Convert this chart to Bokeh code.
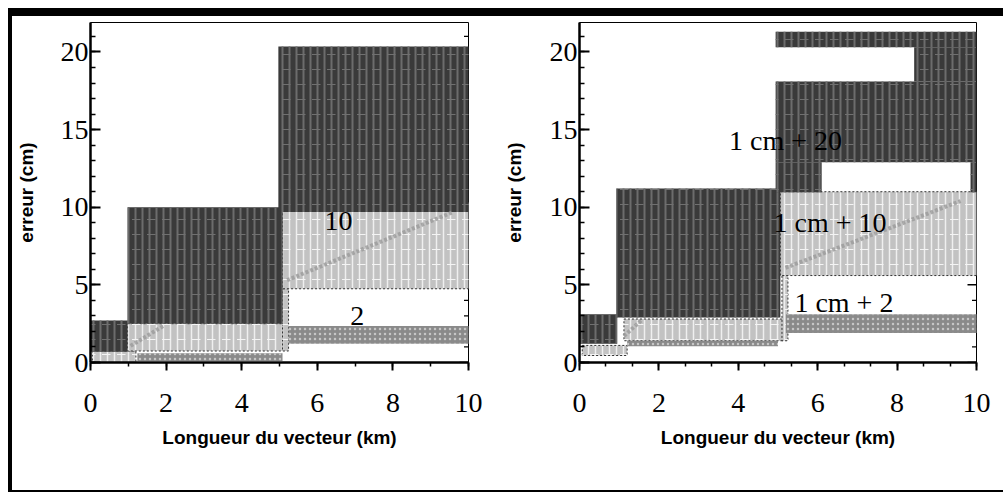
from bokeh.plotting import figure
from bokeh.models import Range1d, SingleIntervalTicker, ColumnDataSource
from bokeh.layouts import row
from bokeh.embed import file_html
from bokeh.resources import INLINE
from bokeh.core.properties import value

# ---------------- data (km, cm) ----------------
# left panel
L_dark_left = [0.0, 0.98, 4.97]
L_dark_right = [0.98, 5.08, 10.05]
L_dark_bottom = [0.7, 2.5, 9.7]
L_dark_top = [2.7, 10.0, 20.35]

L_light_left = [0.05, 0.98, 5.08, 5.08]
L_light_right = [1.2, 5.08, 5.24, 10.27]
L_light_bottom = [-0.5, 0.74, 0.74, 4.75]
L_light_top = [0.74, 2.5, 4.75, 10.3]

L_mid_left = [1.24, 5.24]
L_mid_right = [5.08, 10.05]
L_mid_bottom = [0.1, 1.2]
L_mid_top = [0.6, 2.35]

L_diag_x = [[5.2, 9.6], [1.06, 1.93]]
L_diag_y = [[5.3, 9.7], [1.07, 2.36]]

L_text = ["10", "2"]
L_text_x = [6.56, 7.06]
L_text_y = [9.1, 3.0]

# right panel
R_dark_left = [0.0, 0.93, 4.94, 8.43, 4.94, 4.94, 9.85]
R_dark_right = [0.95, 5.06, 10.05, 10.05, 10.05, 6.1, 10.05]
R_dark_bottom = [1.2, 2.9, 20.3, 18.1, 12.9, 10.97, 10.97]
R_dark_top = [3.1, 11.2, 21.3, 20.3, 18.1, 12.9, 12.9]

R_light_left = [0.07, 1.12, 5.1, 5.06]
R_light_right = [1.2, 5.16, 5.25, 10.2]
R_light_bottom = [0.45, 1.4, 1.4, 5.6]
R_light_top = [1.1, 2.8, 5.6, 11.0]

R_mid_left = [1.2, 5.2]
R_mid_right = [5.0, 10.05]
R_mid_bottom = [1.05, 1.9]
R_mid_top = [1.4, 3.1]

R_diag_x = [[5.19, 9.6], [1.12, 1.55]]
R_diag_y = [[6.1, 10.4], [1.7, 2.7]]

R_text = ["1 cm + 20", "1 cm + 10", "1 cm + 2"]
R_text_x = [5.19, 6.31, 6.66]
R_text_y = [14.3, 9.0, 3.85]

X_RANGE = (0, 10)
Y_RANGE = (0, 21.9)
Y_MAJOR = [0, 5, 10, 15, 20]
Y_MINOR = [v for v in range(0, 22) if v % 5]
X_LABEL = "Longueur du vecteur (km)"
Y_LABEL = "erreur (cm)"

SERIF = "Liberation Serif"
SANS = "Liberation Sans"


def blocks(p, left, right, bottom, top, kind):
    src = ColumnDataSource(dict(left=left, right=right, bottom=bottom, top=top))
    kw = dict(left="left", right="right", bottom="bottom", top="top", source=src)
    if kind == "dark":
        p.quad(fill_color="#3a3a3a", line_color=None, hatch_pattern="vertical_line",
               hatch_color="#6c6c6c", hatch_scale=7, hatch_weight=2, **kw)
        p.quad(fill_color=None, line_color=None, hatch_pattern="horizontal_dash",
               hatch_color="#707070", hatch_scale=15, hatch_weight=1, **kw)
    elif kind == "light":
        p.quad(fill_color="#c2c2c2", line_color="#333333", line_dash="2 2", line_width=1,
               hatch_pattern="vertical_line", hatch_color="#efefef", hatch_scale=7,
               hatch_weight=1.5, **kw)
        p.quad(fill_color=None, line_color=None, hatch_pattern="horizontal_dash",
               hatch_color="#f4f4f4", hatch_scale=15, hatch_weight=1, **kw)
    else:
        p.quad(fill_color="#8a8a8a", line_color=None, hatch_pattern="dot",
               hatch_color="#c6c6c6", hatch_scale=5, hatch_weight=1.5, **kw)


def make_panel(width, border_left, border_right, minor_x, label_standoff):
    p = figure(width=width, height=474, x_range=Range1d(*X_RANGE), y_range=Range1d(*Y_RANGE),
               output_backend="svg", toolbar_location=None,
               min_border_left=border_left, min_border_right=border_right,
               min_border_top=6, min_border_bottom=128,
               background_fill_color="white", border_fill_color="white",
               outline_line_color="black", outline_line_width=1)
    p.grid.visible = False

    xa = p.xaxis[0]
    xa.ticker = SingleIntervalTicker(interval=2, num_minor_ticks=minor_x)
    xa.axis_label = X_LABEL
    ya = p.yaxis[0]
    ya.ticker = SingleIntervalTicker(interval=5, num_minor_ticks=5)
    ya.axis_label = Y_LABEL

    for ax in (xa, ya):
        ax.axis_line_width = 2.5
        ax.axis_line_color = "black"
        ax.major_tick_line_color = "black"
        ax.minor_tick_line_color = "black"
        ax.major_tick_line_width = 2
        ax.minor_tick_line_width = 1.5
        ax.major_label_text_font = SERIF
        ax.major_label_text_font_size = "28px"
        ax.major_label_text_color = "black"
        ax.axis_label_text_font = SANS
        ax.axis_label_text_font_size = "19px"
        ax.axis_label_text_font_style = "bold"
        ax.axis_label_text_color = "black"

    xa.major_tick_in = 0
    xa.major_tick_out = 8
    xa.minor_tick_in = 0
    xa.minor_tick_out = 4
    xa.major_label_standoff = 23
    xa.axis_label_standoff = 12

    ya.major_tick_in = 10
    ya.major_tick_out = 0
    ya.minor_tick_in = 5
    ya.minor_tick_out = 0
    ya.major_label_standoff = 2
    ya.major_label_text_baseline = "top"
    ya.axis_label_standoff = label_standoff

    # inward ticks on the right edge of the frame (half of each dash is clipped away)
    p.scatter(x=[X_RANGE[1]] * len(Y_MAJOR), y=Y_MAJOR, marker="dash", size=18,
              line_color="black", line_width=1.5)
    p.scatter(x=[X_RANGE[1]] * len(Y_MINOR), y=Y_MINOR, marker="dash", size=9,
              line_color="black", line_width=1.2)
    return p


p1 = make_panel(488, 78, 32, 2, 21)
blocks(p1, L_light_left, L_light_right, L_light_bottom, L_light_top, "light")
blocks(p1, L_mid_left, L_mid_right, L_mid_bottom, L_mid_top, "mid")
blocks(p1, L_dark_left, L_dark_right, L_dark_bottom, L_dark_top, "dark")
p1.multi_line(xs=L_diag_x, ys=L_diag_y, line_color="#9a9a9a", line_width=4, line_dash="3 2", line_alpha=0.8)
p1.text(x=L_text_x, y=L_text_y, text=L_text, text_font=value(SERIF), text_font_size="28px",
        text_align="center", text_baseline="middle", text_color="black")

p2 = make_panel(503, 75, 27, 3, 22)
blocks(p2, R_light_left, R_light_right, R_light_bottom, R_light_top, "light")
blocks(p2, R_mid_left, R_mid_right, R_mid_bottom, R_mid_top, "mid")
blocks(p2, R_dark_left, R_dark_right, R_dark_bottom, R_dark_top, "dark")
p2.multi_line(xs=R_diag_x, ys=R_diag_y, line_color="#9a9a9a", line_width=4, line_dash="3 2", line_alpha=0.8)
p2.text(x=R_text_x, y=R_text_y, text=R_text, text_font=value(SERIF), text_font_size="28px",
        text_align="center", text_baseline="middle", text_color="black")

layout = row(p1, p2, margin=(8, 0, 0, 8),
             styles={"border-top": "8px solid black", "border-left": "4px solid black",
                     "border-bottom": "2px solid black"})

open("out.html", "w").write(file_html(layout, INLINE))
